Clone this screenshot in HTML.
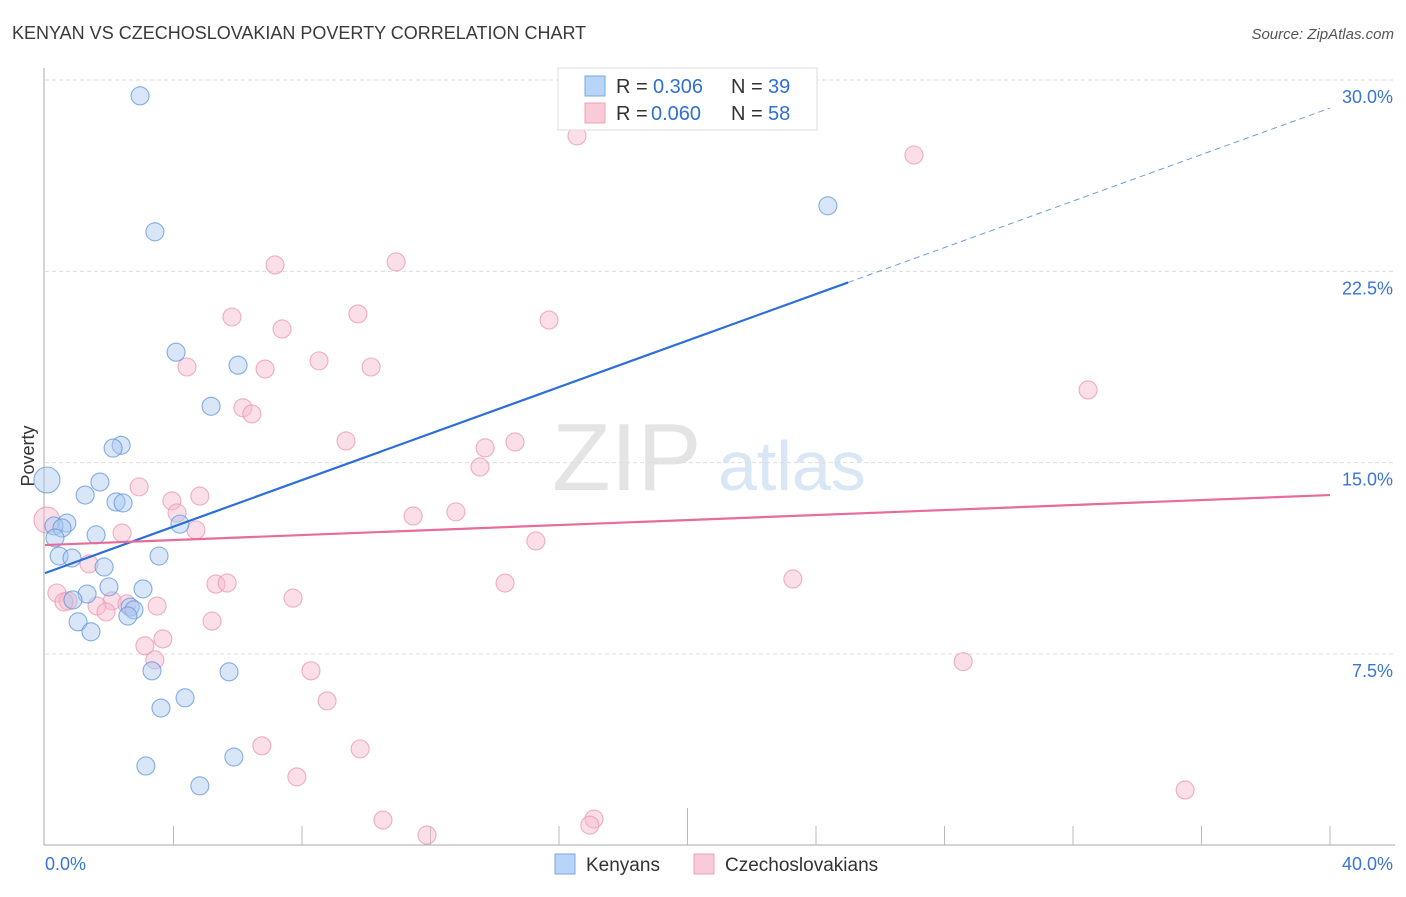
<!DOCTYPE html>
<html><head><meta charset="utf-8"><style>
body{margin:0;background:#fff;font-family:"Liberation Sans",sans-serif;}
svg text{font-family:"Liberation Sans",sans-serif;}
</style></head><body>
<svg id="chart" width="1406" height="892" xmlns="http://www.w3.org/2000/svg">
<text x="12" y="39" font-size="18" fill="#3a3a3a">KENYAN VS CZECHOSLOVAKIAN POVERTY CORRELATION CHART</text>
<text x="1394" y="39" font-size="15" fill="#555" text-anchor="end" font-style="italic">Source: ZipAtlas.com</text>
<text x="552" y="490" font-size="96" fill="#e4e4e4" font-family="Liberation Serif">ZIP</text>
<text x="718" y="490" font-size="70" fill="#d8e6f6">atlas</text>
<text transform="translate(34,456) rotate(-90)" font-size="18" fill="#333" text-anchor="middle">Poverty</text>
<g id="grid"></g><g id="axes"></g><g id="marks"></g>
<g>
<rect x="558" y="68" width="259" height="62" fill="#fff" stroke="#ddd"/>
<rect x="585" y="76" width="20" height="20" fill="#b8d4f6" stroke="#7aa8e6"/>
<rect x="585" y="103" width="20" height="20" fill="#f9cad8" stroke="#f0a0ba"/>
<text x="616" y="93" font-size="20" fill="#333">R =</text>
<text x="653" y="93" font-size="20" fill="#2f6fd6">0.306</text>
<text x="731" y="93" font-size="20" fill="#333">N =</text>
<text x="768" y="93" font-size="20" fill="#2f6fd6">39</text>
<text x="616" y="120" font-size="20" fill="#333">R =</text>
<text x="651" y="120" font-size="20" fill="#2f6fd6">0.060</text>
<text x="731" y="120" font-size="20" fill="#333">N =</text>
<text x="768" y="120" font-size="20" fill="#2f6fd6">58</text>
</g>
<g>
<rect x="555" y="854" width="20" height="20" fill="#b8d4f6" stroke="#7aa8e6"/>
<text x="586" y="871" font-size="19" fill="#333">Kenyans</text>
<rect x="694" y="854" width="20" height="20" fill="#f9cad8" stroke="#f0a0ba"/>
<text x="725" y="871" font-size="19" fill="#333">Czechoslovakians</text>
</g>
</svg>
<script>
const yTicks=[7.5,15,22.5,30];
const yTickLabels=["7.5%","15.0%","22.5%","30.0%"];
const kenX=[2.96,3.42,24.37,4.08,6.01,5.17,2.37,2.12,0.06,1.71,1.25,2.21,2.43,0.68,4.20,0.28,0.53,1.59,0.31,0.44,0.84,3.55,1.84,1.99,3.05,1.31,0.87,2.65,2.77,2.58,1.03,1.43,3.33,5.73,4.36,3.61,5.88,3.14,4.82];
const kenY=[29.38,24.05,25.07,19.33,18.82,17.21,15.68,15.57,14.32,14.24,13.73,13.46,13.42,12.63,12.59,12.52,12.44,12.17,12.05,11.34,11.26,11.34,10.91,10.13,10.05,9.85,9.62,9.34,9.23,8.99,8.76,8.37,6.84,6.80,5.78,5.38,3.46,3.11,2.33];
const czX=[16.56,27.05,7.16,10.93,5.82,9.74,15.69,7.38,8.53,4.42,6.85,10.15,32.47,6.16,6.44,9.37,14.63,13.70,13.54,2.93,4.82,3.95,4.11,4.70,11.46,12.79,2.40,15.28,0.06,1.37,14.32,23.28,5.32,5.67,7.72,0.37,0.72,0.59,2.09,1.62,2.55,1.90,3.49,5.20,3.67,3.11,3.42,28.58,8.28,8.78,6.75,9.81,7.84,35.49,10.52,17.09,16.96,11.89];
const czY=[27.81,27.06,22.75,22.87,20.71,20.83,20.59,20.24,18.99,18.75,18.67,18.75,17.85,17.15,16.91,15.85,15.81,15.58,14.83,14.05,13.69,13.50,13.03,12.36,12.91,13.07,12.24,11.93,12.75,11.03,10.28,10.44,10.24,10.28,9.69,9.89,9.58,9.54,9.58,9.38,9.46,9.15,9.38,8.79,8.09,7.82,7.27,7.20,6.84,5.66,3.90,3.78,2.68,2.17,0.99,1.03,0.79,0.40];
const kenTrend=[10.67,28.9];
const czTrend=[11.77,13.73];
const NS="http://www.w3.org/2000/svg";
const sx=v=>45+v/40*1285, sy=v=>845.3-v*25.51;
function mk(tag,attrs,parent){const e=document.createElementNS(NS,tag);for(const k in attrs)e.setAttribute(k,attrs[k]);parent.appendChild(e);return e;}
const grid=document.getElementById('grid'),axes=document.getElementById('axes'),marks=document.getElementById('marks');
yTicks.forEach((t,i)=>{
 const l=mk('line',{x1:45,x2:1395,y1:sy(t),y2:sy(t),stroke:'#ddd','stroke-dasharray':'4,3'},grid);
 
 
 const tx=mk('text',{x:1393,y:sy(t)+23,'font-size':18,fill:'#3a74d4','text-anchor':'end'},grid);
 tx.textContent=yTickLabels[i];
 
 
});
const ax=mk('path',{d:'M44,68V845H1395',stroke:'#aaa',fill:'none'},axes);


for(let i=1;i<=10;i++){
 const t=mk('line',{x1:sx(i*4),x2:sx(i*4),y1:(i==5?808:826),y2:845,stroke:'#bbb'},axes);
 
 
}
const x0=mk('text',{x:45,y:870,'font-size':18,fill:'#3a74d4'},axes);x0.textContent='0.0%';


const x1=mk('text',{x:1393,y:870,'font-size':18,fill:'#3a74d4','text-anchor':'end'},axes);x1.textContent='40.0%';


function dots(X,Y,fill,stroke,name){X.forEach((x,i)=>{
 const big=(x<0.1);
 const c=mk('circle',{cx:sx(x),cy:sy(Y[i]),r:big?13:9,fill:fill,'fill-opacity':0.45,stroke:stroke,'stroke-opacity':0.75,'stroke-width':1.1},marks);
 
 
});}
dots(czX,czY,'#f7b8cc','#eb94b2','czechoslovakian-point');
dots(kenX,kenY,'#a8c8f0','#5f95dc','kenyan-point');
const xs=25;
const kb=mk('line',{x1:sx(0),y1:sy(kenTrend[0]),x2:sx(xs),y2:sy(kenTrend[0]+(kenTrend[1]-kenTrend[0])*xs/40),stroke:'#2c6fd8','stroke-width':2.2},marks);


const kd=mk('line',{x1:sx(xs),y1:sy(kenTrend[0]+(kenTrend[1]-kenTrend[0])*xs/40),x2:sx(40),y2:sy(kenTrend[1]),stroke:'#6a9ee0','stroke-width':1,'stroke-dasharray':'6,4'},marks);


const cl=mk('line',{x1:sx(0),y1:sy(czTrend[0]),x2:sx(40),y2:sy(czTrend[1]),stroke:'#e86c9a','stroke-width':2.2},marks);


</script>
</body></html>
